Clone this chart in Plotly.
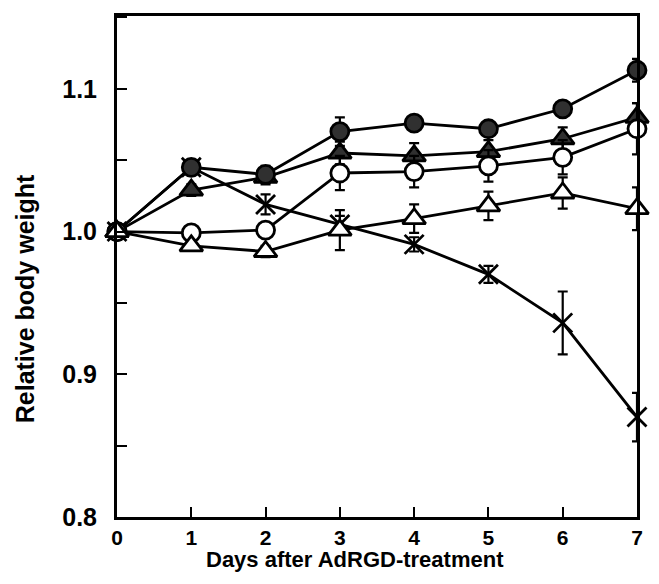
import plotly.graph_objects as go

days = [0, 1, 2, 3, 4, 5, 6, 7]

filled_circle_y = [1.000, 1.045, 1.040, 1.070, 1.076, 1.072, 1.086, 1.113]
filled_circle_err = [0, 0.004, 0.006, 0.010, 0.004, 0.004, 0.004, 0.008]

filled_tri_y = [1.000, 1.029, 1.038, 1.055, 1.053, 1.056, 1.065, 1.080]
filled_tri_err = [0, 0.004, 0.005, 0.008, 0.009, 0.008, 0.008, 0.010]

open_circle_y = [1.000, 0.999, 1.001, 1.041, 1.042, 1.046, 1.052, 1.072]
open_circle_err = [0, 0.004, 0.004, 0.012, 0.011, 0.011, 0.012, 0.018]

open_tri_y = [1.000, 0.990, 0.986, 1.001, 1.009, 1.018, 1.027, 1.016]
open_tri_err = [0, 0.003, 0.004, 0.014, 0.010, 0.010, 0.011, 0.015]

cross_y = [1.000, 1.045, 1.019, 1.005, 0.991, 0.970, 0.936, 0.870]
cross_err = [0, 0.004, 0.007, 0.006, 0.005, 0.006, 0.022, 0.017]

x_tick_vals = [0, 1, 2, 3, 4, 5, 6, 7]
x_tick_text = ["0", "1", "2", "3", "4", "5", "6", "7"]
y_tick_vals = [0.8, 0.9, 1.0, 1.1]
y_tick_text = ["0.8", "0.9", "1.0", "1.1"]

x_title = "Days after AdRGD-treatment"
y_title = "Relative body weight"

FONT = "Liberation Sans, Arial, sans-serif"

def trace(y, err, symbol, fill, size):
    return go.Scatter(
        x=days, y=y, mode="lines+markers",
        line=dict(color="black", width=2.8),
        marker=dict(symbol=symbol, size=size, color=fill,
                    line=dict(color="black", width=2.8)),
        error_y=dict(type="data", array=err, visible=True,
                     color="black", thickness=2.2, width=5),
        showlegend=False, cliponaxis=False,
    )

fig = go.Figure()
fig.add_trace(trace(cross_y, cross_err, "x-thin", "black", 19))
fig.add_trace(trace(filled_tri_y, filled_tri_err, "triangle-up", "#303030", 20))
fig.add_trace(trace(filled_circle_y, filled_circle_err, "circle", "#303030", 18))
fig.add_trace(trace(open_circle_y, open_circle_err, "circle", "white", 18))
fig.add_trace(trace(open_tri_y, open_tri_err, "triangle-up", "white", 20))

# page body has an 8px default margin, so the figure is sized to compensate
fig.update_layout(
    width=651, height=576,
    margin=dict(l=109, r=22, t=5, b=67),
    plot_bgcolor="white", paper_bgcolor="white",
    font=dict(family=FONT, color="black"),
)
fig.update_xaxes(
    range=[0, 7], tickmode="array", tickvals=x_tick_vals, ticktext=x_tick_text,
    ticks="inside", ticklen=10, tickwidth=2, tickcolor="black",
    showline=True, linecolor="black", linewidth=3, mirror=True,
    showgrid=False, zeroline=False,
    tickfont=dict(size=21, family=FONT, weight="bold"),
)
fig.update_yaxes(
    range=[0.8, 1.151], tickmode="array", tickvals=y_tick_vals, ticktext=y_tick_text,
    ticks="inside", ticklen=10, tickwidth=2, tickcolor="black",
    minor=dict(dtick=0.05, ticks="inside", ticklen=10, tickwidth=2, tickcolor="black", showgrid=False),
    showline=True, linecolor="black", linewidth=3, mirror=True,
    showgrid=False, zeroline=False,
    tickfont=dict(size=25, family=FONT, weight="bold"),
    ticklabelstandoff=12,
)

fig.add_annotation(
    text="<b>" + x_title + "</b>", xref="paper", yref="paper",
    x=0.4577, y=-0.0853, xanchor="center", yanchor="middle",
    showarrow=False, font=dict(size=22, family=FONT, color="black"),
)
fig.add_annotation(
    text="<b>" + y_title + "</b>", xref="paper", yref="paper",
    x=-0.177, y=0.4365, xanchor="center", yanchor="middle", textangle=-90,
    showarrow=False, font=dict(size=25, family=FONT, color="black"),
)

fig.write_html("out.html")
